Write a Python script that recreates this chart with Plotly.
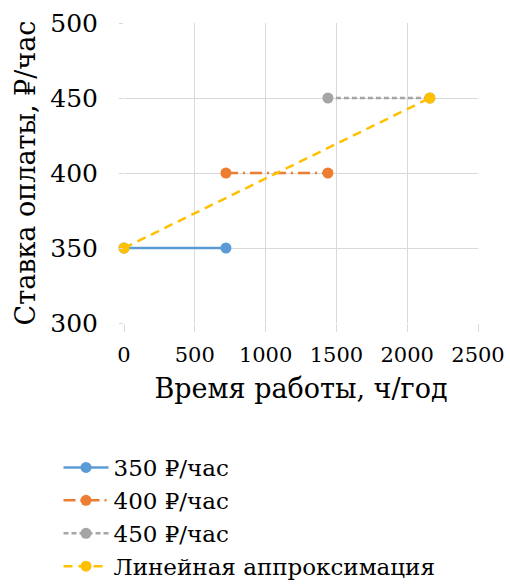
import plotly.graph_objects as go

# Data
x_350 = [0, 720]
y_350 = [350, 350]
x_400 = [720, 1440]
y_400 = [400, 400]
x_450 = [1440, 2160]
y_450 = [450, 450]
x_lin = [0, 2160]
y_lin = [350, 450]
names = ["350 ₽/час", "400 ₽/час", "450 ₽/час", "Линейная аппроксимация"]
colors = ["#5B9BD5", "#ED7D31", "#A5A5A5", "#FFC000"]
dashes = ["solid", "12px,5px,2px,5px", "5px,3px", "9px,6px"]

TXTF = "DejaVu Serif"

fig = go.Figure()
for xs, ys, nm, c, d in zip([x_350, x_400, x_450, x_lin], [y_350, y_400, y_450, y_lin], names, colors, dashes):
    fig.add_trace(go.Scatter(x=xs, y=ys, name=nm, mode="lines+markers",
                             line=dict(color=c, width=2.5, dash=d),
                             marker=dict(color=c, size=11), cliponaxis=False))

fig.update_layout(
    width=510, height=584,
    margin=dict(l=124, r=32, t=23, b=261, autoexpand=False),
    paper_bgcolor="white", plot_bgcolor="white",
    font=dict(family=TXTF, color="black", size=24),
    showlegend=True,
    legend=dict(x=-0.185, y=-0.41, xanchor="left", yanchor="top",
                font=dict(size=23, family=TXTF, color="black"), tracegroupgap=0,
                itemwidth=45, bgcolor="rgba(0,0,0,0)"),
    xaxis=dict(range=[0, 2500], tickvals=[0, 500, 1000, 1500, 2000, 2500],
               showgrid=True, gridcolor="#d9d9d9", gridwidth=1, zeroline=False,
               ticks="outside", ticklen=8, tickcolor="#d9d9d9",
               tickfont=dict(size=21, family=TXTF, color="black"), ticklabelstandoff=5,
               title=dict(text="Время работы, ч/год", font=dict(size=27, family=TXTF, color="black"), standoff=12),
               showline=False),
    yaxis=dict(range=[300, 500], tickvals=[300, 350, 400, 450, 500],
               showgrid=True, gridcolor="#d9d9d9", gridwidth=1, zeroline=False,
               ticks="outside", ticklen=4, tickcolor="#d9d9d9",
               tickfont=dict(size=25, family=TXTF, color="black"), ticklabelstandoff=16,
               title=dict(text="Ставка оплаты, ₽/час", font=dict(size=27, family=TXTF, color="black"), standoff=6),
               showline=False),
)

fig.write_html("out.html")
